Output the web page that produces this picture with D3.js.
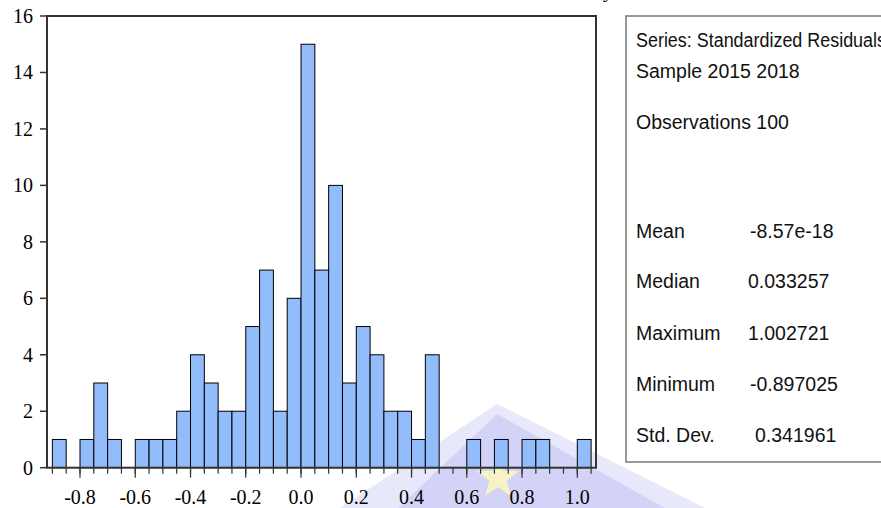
<!DOCTYPE html>
<html>
<head>
<meta charset="utf-8">
<script src="https://cdn.jsdelivr.net/npm/d3@7"></script>
<style>
  body { margin: 0; background: #fff; }
  svg { display: block; }
</style>
</head>
<body>
<svg id="chart" width="881" height="508"></svg>
<script>
// histogram bins (left edges, width 0.05) and counts
var binStart = [-0.90, -0.85, -0.80, -0.75, -0.70, -0.65, -0.60, -0.55, -0.50, -0.45,
                -0.40, -0.35, -0.30, -0.25, -0.20, -0.15, -0.10, -0.05, 0.00, 0.05,
                0.10, 0.15, 0.20, 0.25, 0.30, 0.35, 0.40, 0.45, 0.50, 0.55,
                0.60, 0.65, 0.70, 0.75, 0.80, 0.85, 0.90, 0.95, 1.00];
var counts = [1, 0, 1, 3, 1, 0, 1, 1, 1, 2,
              4, 3, 2, 2, 5, 7, 2, 6, 15, 7,
              10, 3, 5, 4, 2, 2, 1, 4, 0, 0,
              1, 0, 1, 0, 1, 1, 0, 0, 1];
var binWidth = 0.05;
var xTicks = [-0.8, -0.6, -0.4, -0.2, 0.0, 0.2, 0.4, 0.6, 0.8, 1.0];
var xTickLabels = ["-0.8", "-0.6", "-0.4", "-0.2", "0.0", "0.2", "0.4", "0.6", "0.8", "1.0"];
var yTicks = [0, 2, 4, 6, 8, 10, 12, 14, 16];

var statHeader = ["Series: Standardized Residuals", "Sample 2015 2018", "Observations 100"];
var statNames = ["Mean", "Median", "Maximum", "Minimum", "Std. Dev."];
var statValues = ["-8.57e-18", "0.033257", "1.002721", "-0.897025", "0.341961"];

var svg = d3.select("#chart");

var x = d3.scaleLinear().domain([-0.8, 1.0]).range([80, 577.3]);
var y = d3.scaleLinear().domain([0, 16]).range([467.7, 16]);

// faint watermark behind the plot
var wm = svg.append("g");
wm.append("polygon")
    .attr("points", "497,404 340,508 705,508")
    .attr("fill", "#e8e8fb");
wm.append("polygon")
    .attr("points", "497,414 398,508 665,508")
    .attr("fill", "#d3d3f7");
var star = d3.range(10).map(function(i) {
    var r = i % 2 === 0 ? 22 : 9;
    var a = -Math.PI / 2 + i * Math.PI / 5;
    return [498 + r * Math.cos(a), 478 + r * Math.sin(a)];
});
wm.append("polygon")
    .attr("points", star.map(function(p) { return p.join(","); }).join(" "))
    .attr("fill", "#f6f3c6");

// cut-off title above the chart
svg.append("text")
    .attr("x", 603).attr("y", -3)
    .attr("font-family", "Liberation Serif, serif")
    .attr("font-size", 20)
    .text("y");

// bars
svg.append("g")
    .selectAll("rect")
    .data(binStart.map(function(d, i) { return {x0: d, n: counts[i]}; }).filter(function(d) { return d.n > 0; }))
    .enter().append("rect")
    .attr("x", function(d) { return x(d.x0); })
    .attr("y", function(d) { return y(d.n); })
    .attr("width", function(d) { return x(d.x0 + binWidth) - x(d.x0); })
    .attr("height", function(d) { return y(0) - y(d.n); })
    .attr("fill", "#93bcfb")
    .attr("stroke", "#000")
    .attr("stroke-width", 1);

// plot frame
svg.append("rect")
    .attr("x", 47).attr("y", 16)
    .attr("width", 596 - 47).attr("height", y(0) - 16)
    .attr("fill", "none")
    .attr("stroke", "#333")
    .attr("stroke-width", 2);

// y axis ticks and labels
var yAxis = svg.append("g").attr("font-family", "Liberation Serif, serif").attr("font-size", 20);
yAxis.selectAll("line")
    .data(yTicks)
    .enter().append("line")
    .attr("x1", 40).attr("x2", 47)
    .attr("y1", function(d) { return y(d); })
    .attr("y2", function(d) { return y(d); })
    .attr("stroke", "#333").attr("stroke-width", 1.5);
yAxis.selectAll("text")
    .data(yTicks)
    .enter().append("text")
    .attr("x", 33)
    .attr("y", function(d) { return y(d) + 7; })
    .attr("text-anchor", "end")
    .text(function(d) { return d; });

// x axis: minor ticks at bin edges, longer ones at labels
var edges = binStart.concat([1.05]);
var xAxis = svg.append("g").attr("font-family", "Liberation Serif, serif").attr("font-size", 20);
xAxis.selectAll("line.minor")
    .data(edges)
    .enter().append("line")
    .attr("class", "minor")
    .attr("x1", function(d) { return x(d); })
    .attr("x2", function(d) { return x(d); })
    .attr("y1", y(0)).attr("y2", y(0) + 6)
    .attr("stroke", "#333").attr("stroke-width", 1.2);
xAxis.selectAll("line.major")
    .data(xTicks)
    .enter().append("line")
    .attr("class", "major")
    .attr("x1", function(d) { return x(d); })
    .attr("x2", function(d) { return x(d); })
    .attr("y1", y(0)).attr("y2", y(0) + 10)
    .attr("stroke", "#333").attr("stroke-width", 1.2);
xAxis.selectAll("text")
    .data(xTicks)
    .enter().append("text")
    .attr("x", function(d) { return x(d); })
    .attr("y", 504)
    .attr("text-anchor", "middle")
    .text(function(d, i) { return xTickLabels[i]; });

// statistics box
var box = svg.append("g").attr("font-family", "Liberation Sans, Arial, sans-serif").attr("font-size", 19.5).attr("fill", "#111");
box.append("rect")
    .attr("x", 626).attr("y", 16)
    .attr("width", 300).attr("height", 462 - 16)
    .attr("fill", "none")
    .attr("stroke", "#777")
    .attr("stroke-width", 1.5);

var headerY = [47, 78, 129];
box.selectAll("text.head")
    .data(statHeader)
    .enter().append("text")
    .attr("class", "head")
    .attr("x", 636)
    .attr("y", function(d, i) { return headerY[i]; })
    .attr("textLength", function(d, i) { return i === 0 ? 250 : null; })
    .attr("lengthAdjust", "spacingAndGlyphs")
    .text(function(d) { return d; });

var rowY = [238, 288, 340, 391, 442];
var valueX = [750, 748, 748, 750, 755];
box.selectAll("text.name")
    .data(statNames)
    .enter().append("text")
    .attr("class", "name")
    .attr("x", 636)
    .attr("y", function(d, i) { return rowY[i]; })
    .text(function(d) { return d; });
box.selectAll("text.val")
    .data(statValues)
    .enter().append("text")
    .attr("class", "val")
    .attr("x", function(d, i) { return valueX[i]; })
    .attr("y", function(d, i) { return rowY[i]; })
    .text(function(d) { return d; });
</script>
</body>
</html>
